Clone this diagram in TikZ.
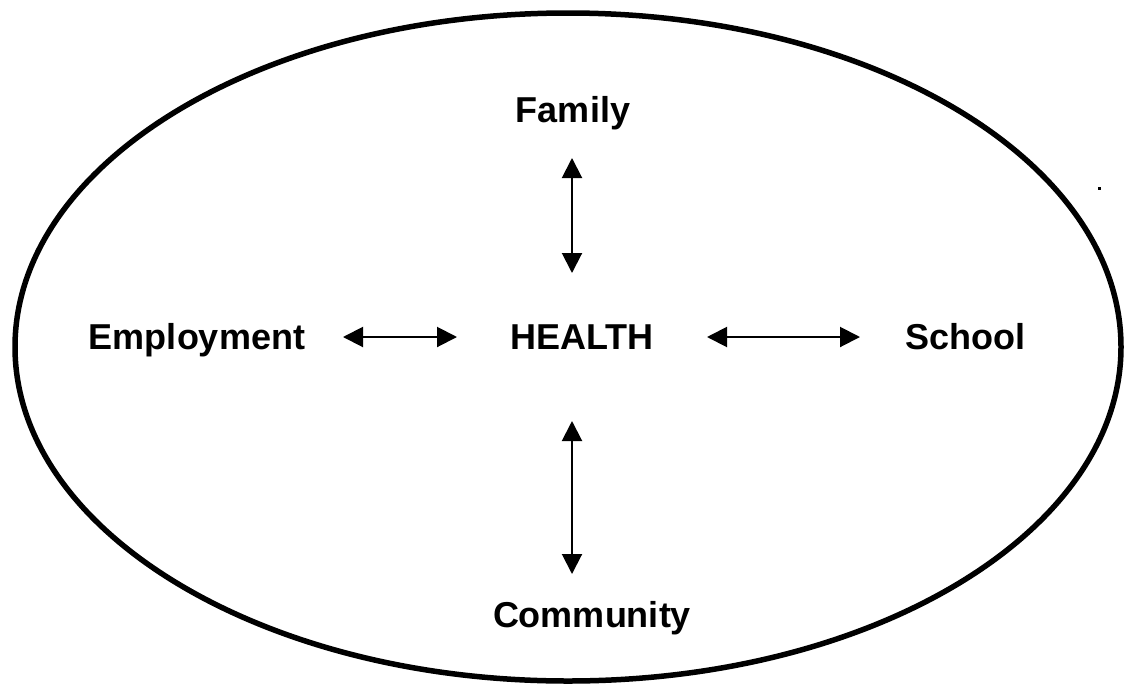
\documentclass[tikz,border=0pt]{standalone}
\usepackage{fontspec}
\setmainfont{Liberation Sans}
\usetikzlibrary{arrows.meta}
\begin{document}
\begin{tikzpicture}[x=1pt,y=-1pt,
  label/.style={font=\fontsize{36}{40}\selectfont\bfseries, inner sep=0pt, anchor=base},
  link/.style={line width=2pt, {Triangle[length=20pt,width=20pt]}-{Triangle[length=20pt,width=20pt]}}]
  \useasboundingbox (0,0) rectangle (1124,683);
  % outer boundary
  \draw[line width=5.5pt] (568,347) ellipse [x radius=553, y radius=334];
  % labels
  \node[label] (health) at (582,349) {HEALTH};
  \node[label] (family) at (573,122) {Family};
  \node[label] (employment) at (197,349) {Employment};
  \node[label] (school) at (965,349) {School};
  \node[label] (community) at (592,627) {Community};
  % arrow end points
  \coordinate (fam1) at (572,158);
  \coordinate (fam2) at (572,273);
  \coordinate (com1) at (572,421);
  \coordinate (com2) at (572,574);
  \coordinate (emp1) at (343,337);
  \coordinate (emp2) at (457,337);
  \coordinate (sch1) at (707,337);
  \coordinate (sch2) at (860,337);
  \draw[link] (fam1) -- (fam2);
  \draw[link] (com1) -- (com2);
  \draw[link] (emp1) -- (emp2);
  \draw[link] (sch1) -- (sch2);
  % small stray mark
  \fill (1097.5,186.5) rectangle (1100.5,189.5);
\end{tikzpicture}
\end{document}
